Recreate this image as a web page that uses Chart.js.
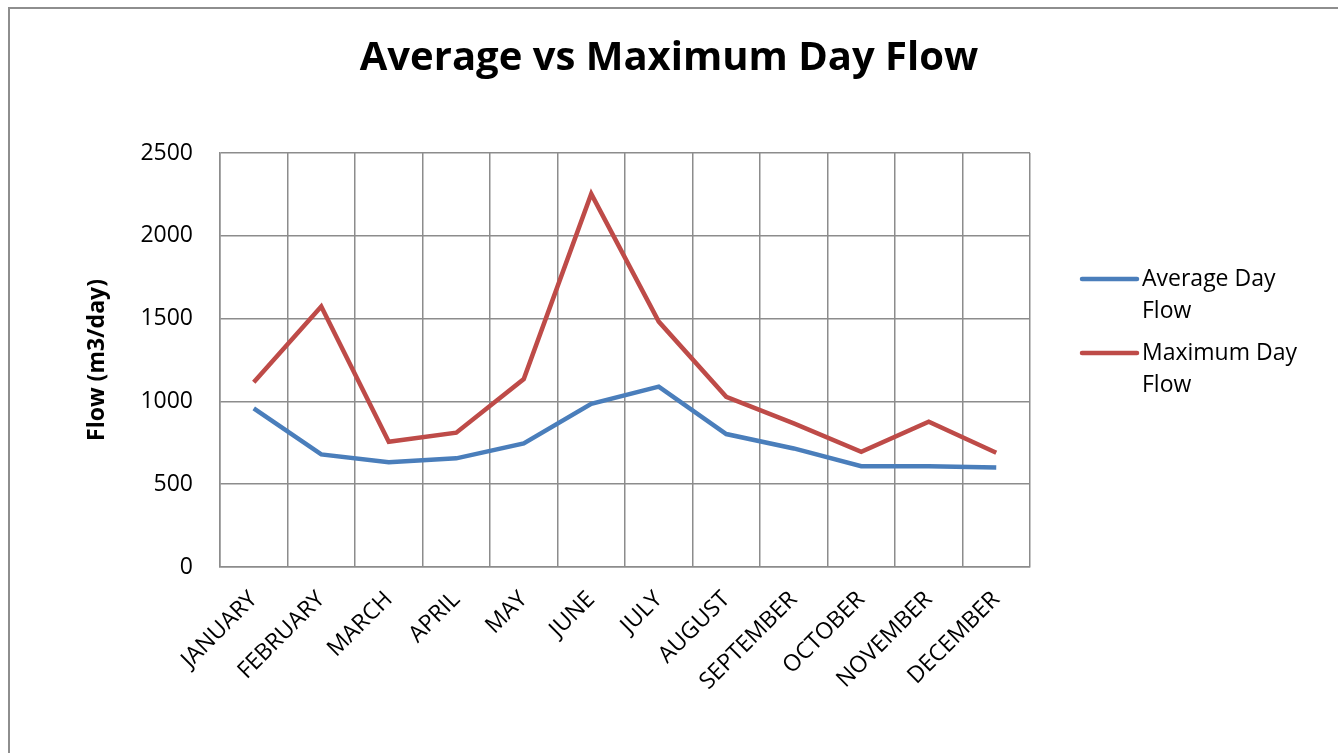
<!DOCTYPE html>
<html>
<head>
<meta charset="utf-8">
<script src="https://cdn.jsdelivr.net/npm/chart.js@4/dist/chart.umd.min.js"></script>
<style>
  html, body { margin: 0; padding: 0; background: #fff; overflow: hidden; }
  #wrap { position: relative; width: 1338px; height: 753px; }
  #frame { position: absolute; left: 8px; top: 7px; width: 1400px; height: 800px; border: 2px solid #8e8e8e; }
  canvas { position: absolute; left: 0; top: 0; }
</style>
</head>
<body>
<div id="wrap">
  <div id="frame"></div>
  <canvas id="flowChart" width="1338" height="753"></canvas>
</div>
<script>
  const months = ['JANUARY', 'FEBRUARY', 'MARCH', 'APRIL', 'MAY', 'JUNE',
    'JULY', 'AUGUST', 'SEPTEMBER', 'OCTOBER', 'NOVEMBER', 'DECEMBER'];
  const averageFlow = [958, 680, 633, 656, 746, 985, 1089, 803, 716, 609, 609, 601];
  const maximumFlow = [1115, 1573, 756, 811, 1135, 2253, 1482, 1028, 867, 696, 877, 690];

  const FONT = '"Open Sans", "Noto Sans", sans-serif';

  // legend on the right, with word wrap like the original
  const sideLegend = {
    id: 'sideLegend',
    afterDraw(chart) {
      const ctx = chart.ctx;
      const x0 = 1082, lineLen = 55, maxW = 175;
      let y = 279;
      ctx.save();
      ctx.font = '23px ' + FONT;
      ctx.textBaseline = 'middle';
      chart.data.datasets.forEach(ds => {
        const words = ds.label.split(' ');
        const lines = [];
        let cur = '';
        words.forEach(w => {
          const test = cur ? cur + ' ' + w : w;
          if (cur && ctx.measureText(test).width > maxW) { lines.push(cur); cur = w; }
          else cur = test;
        });
        lines.push(cur);
        ctx.strokeStyle = ds.borderColor;
        ctx.lineWidth = 4.5;
        ctx.lineCap = 'round';
        ctx.beginPath();
        ctx.moveTo(x0, y);
        ctx.lineTo(x0 + lineLen, y);
        ctx.stroke();
        ctx.fillStyle = '#000';
        lines.forEach((l, i) => ctx.fillText(l, x0 + lineLen + 5, y + i * 32));
        y += lines.length * 32 + 10;
      });
      ctx.restore();
    }
  };

  new Chart(document.getElementById('flowChart').getContext('2d'), {
    type: 'line',
    data: {
      labels: months,
      datasets: [{
        label: 'Average Day Flow',
        data: averageFlow,
        borderColor: '#4a7ebb',
        borderWidth: 4.5,
        pointRadius: 0,
        tension: 0
      }, {
        label: 'Maximum Day Flow',
        data: maximumFlow,
        borderColor: '#be4b48',
        borderWidth: 4.5,
        pointRadius: 0,
        tension: 0
      }]
    },
    options: {
      responsive: false,
      animation: false,
      layout: { padding: 0 },
      plugins: {
        legend: { display: false },
        tooltip: { enabled: false },
        title: {
          display: true,
          text: 'Average vs Maximum Day Flow',
          color: '#000',
          font: { family: FONT, size: 40, weight: 'bold', lineHeight: 1.2 },
          padding: { top: 35, bottom: 70 }
        }
      },
      scales: {
        x: {
          offset: true,
          afterFit(scale) { scale.height = 186; },
          grid: { offset: true, color: '#8c8c8c', lineWidth: 1.5, drawTicks: false },
          border: { color: '#8c8c8c', width: 1.5 },
          ticks: {
            color: '#000',
            font: { family: FONT, size: 23 },
            minRotation: 45,
            maxRotation: 45,
            padding: 19,
            autoSkip: false
          }
        },
        y: {
          min: 0,
          max: 2500,
          afterFit(scale) { scale.width = 220; },
          grid: { color: '#8c8c8c', lineWidth: 1.5, drawTicks: false },
          border: { color: '#8c8c8c', width: 1.5 },
          ticks: {
            stepSize: 500,
            color: '#000',
            font: { family: FONT, size: 23 },
            padding: 27,
            callback: v => String(v)
          },
          title: {
            display: true,
            text: 'Flow (m3/day)',
            color: '#000',
            font: { family: FONT, size: 23, weight: 'bold', lineHeight: 1.2 },
            padding: { top: 84, bottom: 0 }
          }
        },
        // empty right-hand strip that keeps room for the legend
        spacer: {
          type: 'linear',
          position: 'right',
          afterFit(scale) { scale.width = 308; },
          grid: { display: false, drawTicks: false },
          border: { display: false },
          ticks: { display: false }
        }
      }
    },
    plugins: [sideLegend]
  });
</script>
</body>
</html>
